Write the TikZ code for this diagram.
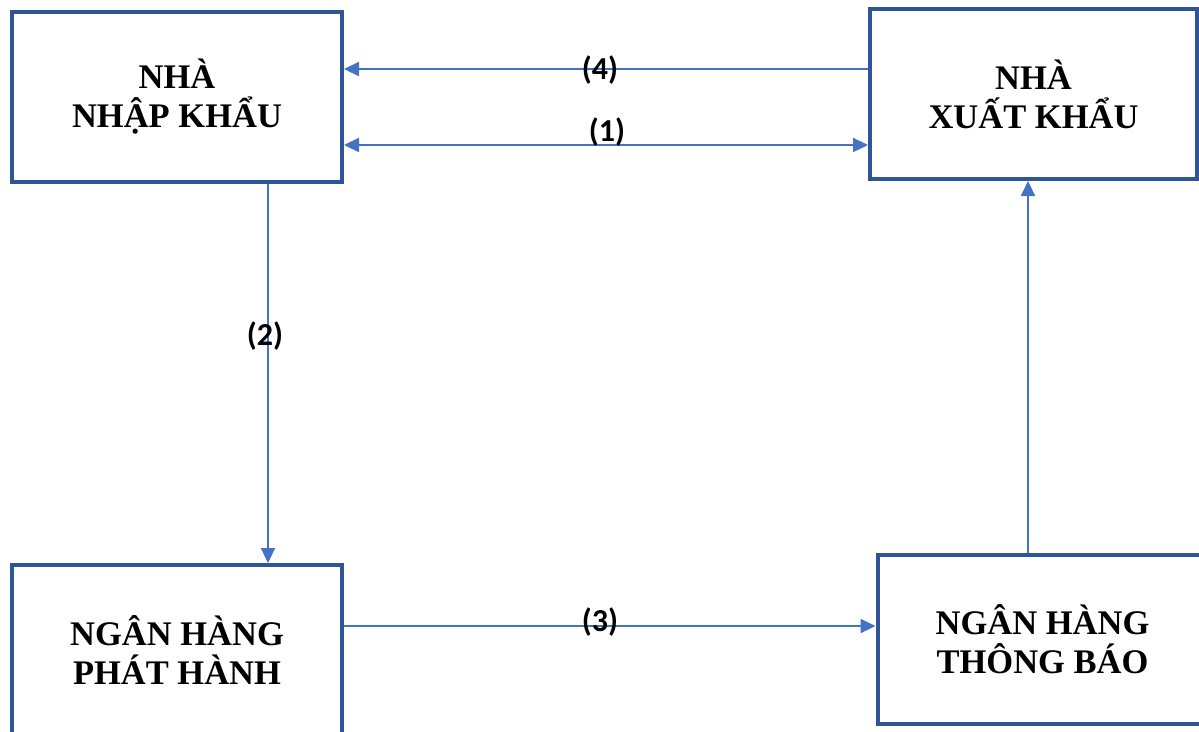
\documentclass[tikz,border=0pt]{standalone}
\usepackage{fontspec}
\setmainfont{Liberation Serif}
\newfontfamily\lblfont{Carlito}
\usetikzlibrary{arrows.meta}
\definecolor{boxblue}{HTML}{2F5597}
\definecolor{arrowblue}{HTML}{4472C4}
\tikzset{
  party/.style={draw=boxblue, line width=4pt, fill=white, rectangle,
    inner sep=0pt, align=center,
    font=\fontsize{34.5}{39}\selectfont\bfseries},
  flow/.style={draw=arrowblue, line width=2.2pt,
    -{Triangle[length=15pt,width=14pt]}},
  twoway/.style={draw=arrowblue, line width=2.2pt,
    {Triangle[length=15pt,width=14pt]}-{Triangle[length=15pt,width=14pt]}},
  steplabel/.style={font=\fontsize{32}{34}\selectfont\lblfont\bfseries, inner sep=0pt}
}
\begin{document}
\begin{tikzpicture}[x=1pt,y=-1pt]
\useasboundingbox (0,0) rectangle (1199,731);
\clip (0,0) rectangle (1199,731);

% the four parties of the letter of credit
\node[party, minimum width=330pt, minimum height=170pt] (nk) at (177,97) {NHÀ\\NHẬP KHẨU};
\node[party, minimum width=327pt, minimum height=170pt] (xk) at (1033.5,94) {NHÀ\\XUẤT KHẨU};
\node[party, minimum width=330pt, minimum height=170pt] (ph) at (177,650) {NGÂN HÀNG\\PHÁT HÀNH};
\node[party, minimum width=330pt, minimum height=169pt] (tb) at (1042.5,639) {NGÂN HÀNG\\THÔNG BÁO};

% flows between them
\draw[flow] ([yshift=25pt]xk.west) -- ([yshift=25pt]xk.west -| nk.east);
\draw[twoway] ([yshift=-48pt]nk.east) -- ([yshift=-48pt]nk.east -| xk.west);
\draw[flow] ([xshift=91pt]nk.south) -- ([xshift=91pt]nk.south |- ph.north);
\draw[flow] ([yshift=24pt]ph.east) -- ([yshift=24pt]ph.east -| tb.west);
\draw[flow] ([xshift=-14.5pt]tb.north) -- ([xshift=-14.5pt]tb.north |- xk.south);

% step numbers
\node[steplabel] (s4) at (600,70) {(4)};
\node[steplabel] (s1) at (607,132) {(1)};
\node[steplabel] (s2) at (265,336) {(2)};
\node[steplabel] (s3) at (600,622) {(3)};
\end{tikzpicture}
\end{document}
